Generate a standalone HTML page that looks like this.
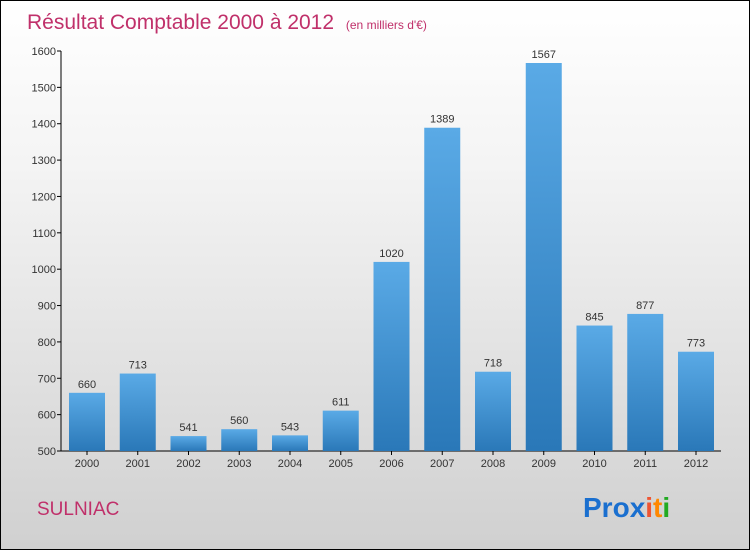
<!DOCTYPE html>
<html><head><meta charset="utf-8"><style>
body{margin:0}
#c{width:748px;height:548px;border:1px solid #000;background:linear-gradient(#ffffff,#f4f4f4 30%,#d0d0d0);position:relative;overflow:hidden;font-family:"Liberation Sans",sans-serif}
</style></head><body>
<div id="c">
<svg id="s" width="748" height="548" xmlns="http://www.w3.org/2000/svg">
<defs><linearGradient id="g" x1="0" y1="0" x2="0" y2="1"><stop offset="0" stop-color="#5aaae6"/><stop offset="1" stop-color="#2a78b8"/></linearGradient></defs>
<text x="26" y="28" font-size="21" fill="#c0306a">Résultat Comptable 2000 à 2012 <tspan font-size="12" dx="6">(en milliers d'€)</tspan></text>
<text x="36" y="514" font-size="19" fill="#c0306a">SULNIAC</text>
<g font-size="28" font-weight="bold">
<text x="582" y="516"><tspan fill="#1a6fcf">Pro</tspan><tspan fill="#1a6fcf">x</tspan><tspan fill="#e53">i</tspan><tspan fill="#f80">t</tspan><tspan fill="#2a2">i</tspan></text></g>
<g id="plot"></g>
</svg></div>
<script>
const years=["2000","2001","2002","2003","2004","2005","2006","2007","2008","2009","2010","2011","2012"];
const values=[660,713,541,560,543,611,1020,1389,718,1567,845,877,773];
const ticks=[500,600,700,800,900,1000,1100,1200,1300,1400,1500,1600];
const NS="http://www.w3.org/2000/svg";
const p=document.getElementById('plot');
const y=v=>450-(v-500)*400/1100;
const x=i=>86+i*50.75;
function mk(t,a,txt){const e=document.createElementNS(NS,t);for(const k in a)e.setAttribute(k,a[k]);if(txt!=null)e.textContent=txt;p.appendChild(e);return e;}
let ax=mk('line',{x1:60,y1:50,x2:60,y2:450,stroke:'#000'});


let bx=mk('line',{x1:60,y1:450,x2:720,y2:450,stroke:'#000'});


ticks.forEach(t=>{
 let l=mk('line',{x1:56,y1:y(t),x2:60,y2:y(t),stroke:'#000'});
 
 
 let tx=mk('text',{x:55,y:y(t)+4,'font-size':11,'text-anchor':'end',fill:'#333'},t);
 
 
});
years.forEach((yr,i)=>{
 const v=values[i];
 let r=mk('rect',{x:x(i)-18,y:y(v),width:36,height:450-y(v),fill:'url(#g)'});
 
 
 let vl=mk('text',{x:x(i),y:y(v)-5,'font-size':11,'text-anchor':'middle',fill:'#333'},v);
 
 
 let tk=mk('line',{x1:x(i),y1:450,x2:x(i),y2:454,stroke:'#000'});
 
 
 let xl=mk('text',{x:x(i),y:466,'font-size':11,'text-anchor':'middle',fill:'#333'},yr);
 
 
});
</script>
</body></html>
